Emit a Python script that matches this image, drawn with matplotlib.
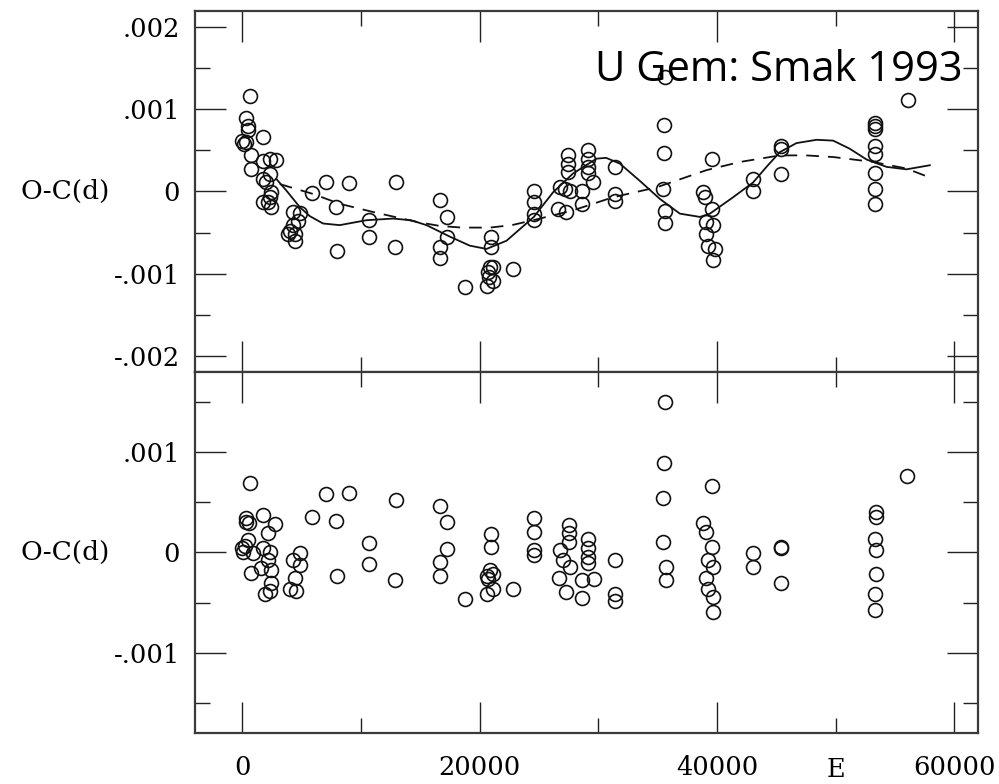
import matplotlib

matplotlib.use("Agg")
import matplotlib.pyplot as plt
import matplotlib.transforms as mtransforms
import numpy as np
from matplotlib.ticker import FuncFormatter, MultipleLocator

# upper panel: O-C against the linear ephemeris (units of 0.001 d)
top_e = [
    675, 340, 470, 470, 0, 340, 100, 1690, 760, 760, 1740, 2300, 2810, 1740,
    2300, 2020, 2440, 2300, 1740, 2440, 2160, 4270, 4830, 4690, 4270, 3850,
    4410, 4410, 4000, 5870, 7020, 8990, 7920, 8010, 10670, 10670, 12900,
    12840, 16690, 17200, 17200, 16690, 16690, 18740, 20990, 20990, 20850,
    20700, 21130, 20570, 21130, 20800, 22810, 24560, 24560, 24560, 24560,
    27450, 27450, 27450, 26750, 27170, 27590, 26610, 27310, 28580, 28580,
    29140, 29140, 29140, 29140, 29560, 31390, 31390, 31390, 35600, 35520,
    35520, 35460, 35600, 35600, 39540, 38830, 38970, 39540, 39110, 39670,
    39110, 39250, 39820, 39670, 43040, 43040, 45380, 45380, 45380, 53300,
    53300, 53300, 53300, 53300, 53300, 53300, 53300, 56110,
]
top_oc = [
    1.16, 0.89, 0.80, 0.75, 0.62, 0.60, 0.58, 0.66, 0.45, 0.27, 0.37, 0.39,
    0.38, 0.15, 0.21, 0.11, -0.01, -0.07, -0.13, -0.19, -0.13, -0.25, -0.26,
    -0.36, -0.41, -0.52, -0.52, -0.60, -0.48, -0.02, 0.11, 0.10, -0.19,
    -0.72, -0.35, -0.56, 0.11, -0.68, -0.10, -0.31, -0.56, -0.68, -0.81,
    -1.17, -0.56, -0.68, -0.92, -0.98, -0.92, -1.15, -1.09, -1.04, -0.94,
    0.00, -0.13, -0.27, -0.35, 0.44, 0.34, 0.24, 0.05, 0.03, 0.01, -0.21,
    -0.25, 0.01, -0.15, 0.50, 0.40, 0.30, 0.22, 0.11, 0.30, -0.03, -0.11,
    1.39, 0.81, 0.47, 0.03, -0.24, -0.39, 0.40, -0.01, -0.07, -0.21, -0.37,
    -0.41, -0.52, -0.66, -0.70, -0.84, 0.15, 0.00, 0.56, 0.52, 0.21, 0.83,
    0.80, 0.76, 0.56, 0.46, 0.23, 0.03, -0.15, 1.12,
]

# solid fitted curve
fit_e = [
    2870, 3710, 4830, 5670, 6790, 8200, 10450, 12700, 14200, 15510, 17480,
    19160, 20570, 22260, 24560, 26180, 27870, 29840, 30650, 31810, 33490,
    35180, 36870, 38560, 39400, 41360, 43040, 44170, 45300, 46700, 48390,
    49790, 51200, 52600, 54290, 55970, 57940,
]
fit_oc = [
    0.15, 0.01, -0.19, -0.30, -0.39, -0.41, -0.35, -0.33, -0.35, -0.41,
    -0.55, -0.66, -0.70, -0.60, -0.31, -0.01, 0.22, 0.40, 0.41, 0.34, 0.13,
    -0.09, -0.27, -0.31, -0.27, -0.07, 0.11, 0.30, 0.48, 0.59, 0.63, 0.62,
    0.52, 0.39, 0.30, 0.27, 0.32,
]

# dashed long-term curve
trend_e = [
    3150, 5950, 8200, 11010, 14670, 16630, 18500, 20850, 22700, 24500, 27870,
    31240, 34900, 39110, 41940, 45300, 47500, 49790, 53160, 55970, 57940,
]
trend_oc = [
    0.09, -0.03, -0.15, -0.25, -0.37, -0.42, -0.44, -0.44, -0.41, -0.35,
    -0.23, -0.07, 0.05, 0.26, 0.36, 0.44, 0.44, 0.42, 0.36, 0.28, 0.17,
]

# lower panel: residuals (units of 0.001 d)
bot_e = [
    675, 340, 560, 1690, 2720, 2160, 470, 0, 50, 250, 300, 890, 1740, 2300,
    2160, 760, 1600, 2440, 2440, 1880, 2300, 4270, 4830, 4830, 4410, 3990,
    4550, 5900, 7020, 8990, 7920, 8010, 10670, 10670, 12900, 12840, 16690,
    17200, 17200, 16690, 16690, 18740, 20990, 20990, 20850, 20570, 21130,
    20700, 21130, 20570, 22810, 24560, 24560, 24560, 24560, 27530, 27530,
    27530, 26750, 27030, 27590, 26690, 27310, 29140, 29140, 29140, 29140,
    28580, 29620, 28580, 31390, 31390, 31390, 35600, 35520, 35460, 35410,
    35690, 35690, 39540, 38830, 39060, 39540, 39200, 39670, 39110, 39250,
    39670, 39670, 43040, 43040, 45380, 45380, 45380, 53390, 53390, 53300,
    53390, 53390, 53300, 53300, 56030,
]
bot_oc = [
    0.69, 0.34, 0.29, 0.37, 0.28, 0.19, 0.12, 0.04, 0.00, 0.06, 0.30, -0.01,
    0.04, 0.00, -0.08, -0.20, -0.16, -0.18, -0.30, -0.41, -0.38, -0.08,
    -0.01, -0.13, -0.25, -0.36, -0.38, 0.35, 0.58, 0.59, 0.31, -0.23, 0.09,
    -0.12, 0.52, -0.27, 0.46, 0.30, 0.03, -0.10, -0.23, -0.46, 0.18, 0.05,
    -0.18, -0.23, -0.21, -0.26, -0.36, -0.41, -0.36, 0.34, 0.20, 0.02,
    -0.03, 0.27, 0.19, 0.10, 0.02, -0.08, -0.15, -0.25, -0.39, 0.13, 0.04,
    -0.05, -0.11, -0.27, -0.26, -0.45, -0.08, -0.41, -0.48, 1.50, 0.89,
    0.54, 0.10, -0.15, -0.27, 0.66, 0.29, 0.20, 0.05, -0.08, -0.15, -0.25,
    -0.36, -0.44, -0.59, -0.01, -0.15, 0.04, 0.05, -0.30, 0.40, 0.35, 0.13,
    0.02, -0.21, -0.41, -0.57, 0.76,
]

SERIF = "DejaVu Serif"
LABEL_SIZE = 18.5


def day_label(value, _pos):
    if abs(value) < 1e-9:
        return "0"
    text = f"{value:.3f}"
    return text.replace("0.", ".", 1)


def style_axes(ax, show_xlabels):
    for spine in ax.spines.values():
        spine.set_color("#3a3a3a")
        spine.set_linewidth(1.6)
    ax.xaxis.set_major_locator(MultipleLocator(20000))
    ax.xaxis.set_minor_locator(MultipleLocator(10000))
    ax.yaxis.set_major_locator(MultipleLocator(0.001))
    ax.yaxis.set_minor_locator(MultipleLocator(0.0005))
    ax.yaxis.set_major_formatter(FuncFormatter(day_label))
    ax.tick_params(which="both", direction="in", top=True, right=True,
                   color="#222222", width=1.0)
    ax.tick_params(which="major", length=22)
    ax.tick_params(which="minor", length=11)
    ax.tick_params(axis="y", which="major", pad=11, labelsize=LABEL_SIZE)
    ax.tick_params(axis="x", which="major", pad=16, labelsize=LABEL_SIZE,
                   labelbottom=show_xlabels)
    for label in ax.get_xticklabels() + ax.get_yticklabels():
        label.set_fontfamily(SERIF)
    ax.set_ylabel("O-C(d)", rotation=0, ha="right", va="center",
                  fontsize=19, fontfamily=SERIF)
    ax.yaxis.set_label_coords(-0.1086, 0.5)


def main():
    fig = plt.figure(figsize=(9.99, 7.84), dpi=100)
    ax_top = fig.add_axes([0.1952, 0.5255, 0.7838, 0.4605])
    ax_bot = fig.add_axes([0.1952, 0.0651, 0.7838, 0.4605], sharex=ax_top)

    circle = dict(linestyle="none", marker="o", markersize=10,
                  markerfacecolor="none", markeredgecolor="#111111",
                  markeredgewidth=1.2)

    ax_top.plot(top_e, np.array(top_oc) * 1e-3, **circle)
    ax_top.plot(fit_e, np.array(fit_oc) * 1e-3, color="#111111", lw=1.3)
    ax_top.plot(trend_e, np.array(trend_oc) * 1e-3, color="#111111", lw=1.3,
                dashes=(7, 5))
    ax_bot.plot(bot_e, np.array(bot_oc) * 1e-3, **circle)

    ax_top.set_xlim(-4000, 62000)
    ax_top.set_ylim(-0.0022, 0.0022)
    ax_bot.set_ylim(-0.0018, 0.0018)

    style_axes(ax_top, show_xlabels=False)
    style_axes(ax_bot, show_xlabels=True)

    trans = mtransforms.blended_transform_factory(ax_bot.transData,
                                                  ax_bot.transAxes)
    ax_bot.text(50000, -0.10, "E", transform=trans, ha="center", va="center",
                fontsize=LABEL_SIZE, fontfamily=SERIF)

    fig.text(0.964, 0.8967, "U Gem: Smak 1993", ha="right", va="baseline",
             fontsize=30, fontfamily="Open Sans")

    fig.savefig("out.png", dpi=100)
    plt.close(fig)


if __name__ == "__main__":
    main()
